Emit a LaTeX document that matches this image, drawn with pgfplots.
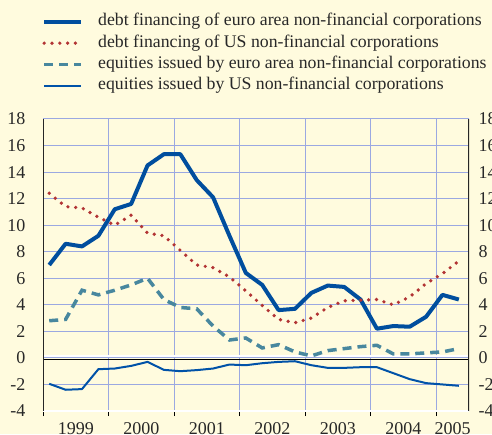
\documentclass[border=0pt]{standalone}
\usepackage{pgfplots}
\usepackage{pgfplotstable}
\usepackage{fontspec}
\setmainfont{Liberation Serif}
\pgfplotsset{compat=1.18}
\definecolor{bgcol}{RGB}{255,251,222}
\definecolor{gridcol}{RGB}{155,168,225}
\definecolor{euroblue}{RGB}{0,78,158}
\definecolor{usred}{RGB}{178,52,52}
\definecolor{teal2}{RGB}{72,135,158}
\definecolor{thinblue}{RGB}{0,82,168}
\definecolor{txt}{RGB}{40,40,40}

\pgfplotstableread{
k  ed    ud    ee    ue
0  7.0   12.4  2.8   -1.95
1  8.6   11.4  2.9   -2.4
2  8.4   11.3  5.1   -2.35
3  9.2   10.6  4.75  -0.85
4  11.2  10.0  5.1   -0.8
5  11.6  10.75 5.5   -0.6
6  14.5  9.4   6.0   -0.3
7  15.35 9.2   4.4   -0.9
8  15.35 8.1   3.8   -1.0
9  13.4  7.0   3.7   -0.92
10 12.1  6.8   2.4   -0.8
11 9.2   6.1   1.35  -0.5
12 6.4   5.05  1.5   -0.55
13 5.5   3.95  0.75  -0.4
14 3.6   2.9   1.0   -0.3
15 3.7   2.65  0.45  -0.25
16 4.9   3.0   0.15  -0.55
17 5.45  3.8   0.55  -0.75
18 5.35  4.3   0.7   -0.75
19 4.4   4.35  0.85  -0.7
20 2.2   4.4   0.95  -0.7
21 2.4   4.0   0.3   -1.15
22 2.35  4.6   0.3   -1.6
23 3.1   5.6   0.38  -1.9
24 4.75  6.35  0.45  -2.0
25 4.4   7.3   0.7   -2.1
}\datatable

\begin{document}
\begin{tikzpicture}[x=1pt,y=1pt]
\useasboundingbox (0,0) rectangle (492,434);
\fill[bgcol] (0,0) rectangle (492,434);
\clip (0,0) rectangle (492,434);
\begin{axis}[
  at={(43pt,23pt)}, anchor=south west, scale only axis,
  width=426pt, height=292pt,
  xmin=-0.38, xmax=25.62, ymin=-4, ymax=18,
  axis line style={draw=none},
  xtick={-0.38,3.62,7.62,11.62,15.62,19.62,23.62},
  xticklabels={},
  extra x ticks={1.62,5.62,9.62,13.62,17.62,21.62,24.62},
  extra x tick labels={1999,2000,2001,2002,2003,2004,2005},
  extra x tick style={grid=none, major tick length=0pt,
    xticklabel style={yshift=-8pt}},
  ytick={-4,-2,...,18},
  xmajorgrids, ymajorgrids,
  grid style={gridcol, line width=1pt},
  tick align=outside, major tick length=5pt,
  xtick pos=bottom, ytick pos=left,
  y tick style={draw=none},
  x tick style={black, line width=1pt},
  tick label style={font=\fontsize{18}{20}\selectfont, text=txt},
  yticklabel style={xshift=-9pt},
  /pgf/number format/assume math mode=true,
  legend style={at={(axis description cs:0,1)}, anchor=south west,
    xshift=-1pt, yshift=24pt, draw=none, fill=none, inner sep=0pt,
    font=\fontsize{17.75}{20}\selectfont, text=txt,
    nodes={inner sep=1pt, text height=12pt, text depth=4pt},
    row sep=3.3pt},
  legend cell align=left,
  legend image code/.code={\draw[#1] (0pt,0pt) -- (37pt,0pt); \path (51pt,0pt);},
]
\draw[white, line width=2pt] (rel axis cs:0,0) -- (rel axis cs:1,0);
\draw[white, line width=2.2pt] (axis cs:-0.38,0.13) -- (axis cs:25.62,0.13);
\draw[black, line width=1pt] (axis cs:-0.38,-0.12) -- (axis cs:25.62,-0.12);
\addplot[euroblue, line width=4pt, line join=round] table[x=k,y=ed] {\datatable};
\addlegendentry{debt financing of euro area non-financial corporations}
\addplot[usred, line width=3.7pt, line cap=round, dash pattern=on 0pt off 7.8pt] table[x=k,y=ud] {\datatable};
\addlegendentry{debt financing of US non-financial corporations}
\addplot[teal2, line width=3.5pt, dash pattern=on 9pt off 6pt] table[x=k,y=ee] {\datatable};
\addlegendentry{equities issued by euro area non-financial corporations}
\addplot[thinblue, line width=2pt, line join=round] table[x=k,y=ue] {\datatable};
\addlegendentry{equities issued by US non-financial corporations}
\draw[black!85, line width=1.6pt] (rel axis cs:0,0) -- (rel axis cs:0,1);
\draw[black!85, line width=1.6pt] (rel axis cs:1,0) -- (rel axis cs:1,1);
\end{axis}
\begin{axis}[
  at={(43pt,23pt)}, anchor=south west, scale only axis,
  width=426pt, height=292pt,
  xmin=-0.38, xmax=25.62, ymin=-4, ymax=18,
  axis x line=none, axis y line*=right,
  y axis line style={draw=none},
  ytick={-4,-2,...,18},
  y tick style={draw=none},
  tick label style={font=\fontsize{18}{20}\selectfont, text=txt},
  yticklabel style={xshift=6pt},
  /pgf/number format/assume math mode=true,
]
\end{axis}
\end{tikzpicture}
\end{document}
